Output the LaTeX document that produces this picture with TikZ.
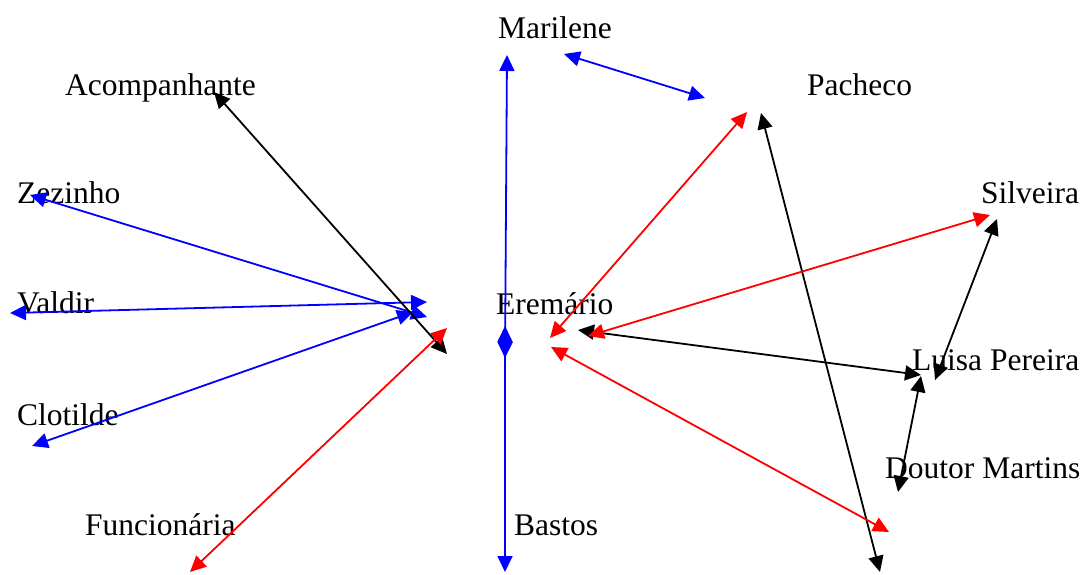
\documentclass[tikz,border=0pt]{standalone}
\usepackage{fontspec}
\setmainfont{Liberation Serif}
\usetikzlibrary{arrows.meta}
\begin{document}
\begin{tikzpicture}[x=1pt,y=-1pt,
  lbl/.style={anchor=base west,inner sep=0pt,font=\fontsize{31.5}{36}\selectfont},
  link/.style={line width=1.8pt,{Triangle[length=16pt,width=15pt]}-{Triangle[length=16pt,width=15pt]}},
  bl/.style={link,draw=blue,fill=blue},
  rd/.style={link,draw=red,fill=red},
  bk/.style={link,draw=black,fill=black}]
\useasboundingbox (0,0) rectangle (1084,574);
% labels
\node[lbl] (marilene) at (498,38) {Marilene};
\node[lbl] (acomp) at (65,95) {Acompanhante};
\node[lbl] (pacheco) at (807,95) {Pacheco};
\node[lbl] (zezinho) at (17,203) {Zezinho};
\node[lbl] (silveira) at (981,203) {Silveira};
\node[lbl] (valdir) at (17,313) {Valdir};
\node[lbl] (eremario) at (496,314) {Eremário};
\node[lbl] (luisa) at (912,370) {Luisa Pereira};
\node[lbl] (clotilde) at (17,425) {Clotilde};
\node[lbl] (doutor) at (885,478) {Doutor Martins};
\node[lbl] (func) at (85,535) {Funcionária};
\node[lbl] (bastos) at (514,535) {Bastos};
% end points
\coordinate (mA) at (507,55);   \coordinate (eA) at (505,358);
\coordinate (eB) at (505,326);  \coordinate (bA) at (505,572);
\coordinate (mB) at (564,54);   \coordinate (pA) at (705,98);
\coordinate (zA) at (30,195);   \coordinate (hZ) at (427,317);
\coordinate (vA) at (10,313);   \coordinate (hV) at (427,302);
\coordinate (cA) at (32,446);   \coordinate (hC) at (413,312);
\coordinate (aA) at (214,92);   \coordinate (hA) at (447,354);
\coordinate (pB) at (761,113);  \coordinate (dB) at (880,572);
\coordinate (eC) at (578,330);  \coordinate (lA) at (921,375);
\coordinate (sA) at (997,219);  \coordinate (lB) at (935,380);
\coordinate (lC) at (921,376);  \coordinate (dA) at (898,492);
\coordinate (eD) at (550,338);  \coordinate (pC) at (747,112);
\coordinate (eE) at (588,336);  \coordinate (sB) at (990,215);
\coordinate (eF) at (551,347);  \coordinate (dC) at (889,532);
\coordinate (fA) at (190,572);  \coordinate (hF) at (447,328);
% connectors
\draw[bl] (mA) -- (eA);
\draw[bl] (eB) -- (bA);
\draw[bl] (mB) -- (pA);
\draw[bl] (zA) -- (hZ);
\draw[bl] (vA) -- (hV);
\draw[bl] (cA) -- (hC);
\draw[bk] (aA) -- (hA);
\draw[bk] (pB) -- (dB);
\draw[bk] (eC) -- (lA);
\draw[bk] (sA) -- (lB);
\draw[bk] (lC) -- (dA);
\draw[rd] (eD) -- (pC);
\draw[rd] (eE) -- (sB);
\draw[rd] (eF) -- (dC);
\draw[rd] (fA) -- (hF);
\end{tikzpicture}
\end{document}
